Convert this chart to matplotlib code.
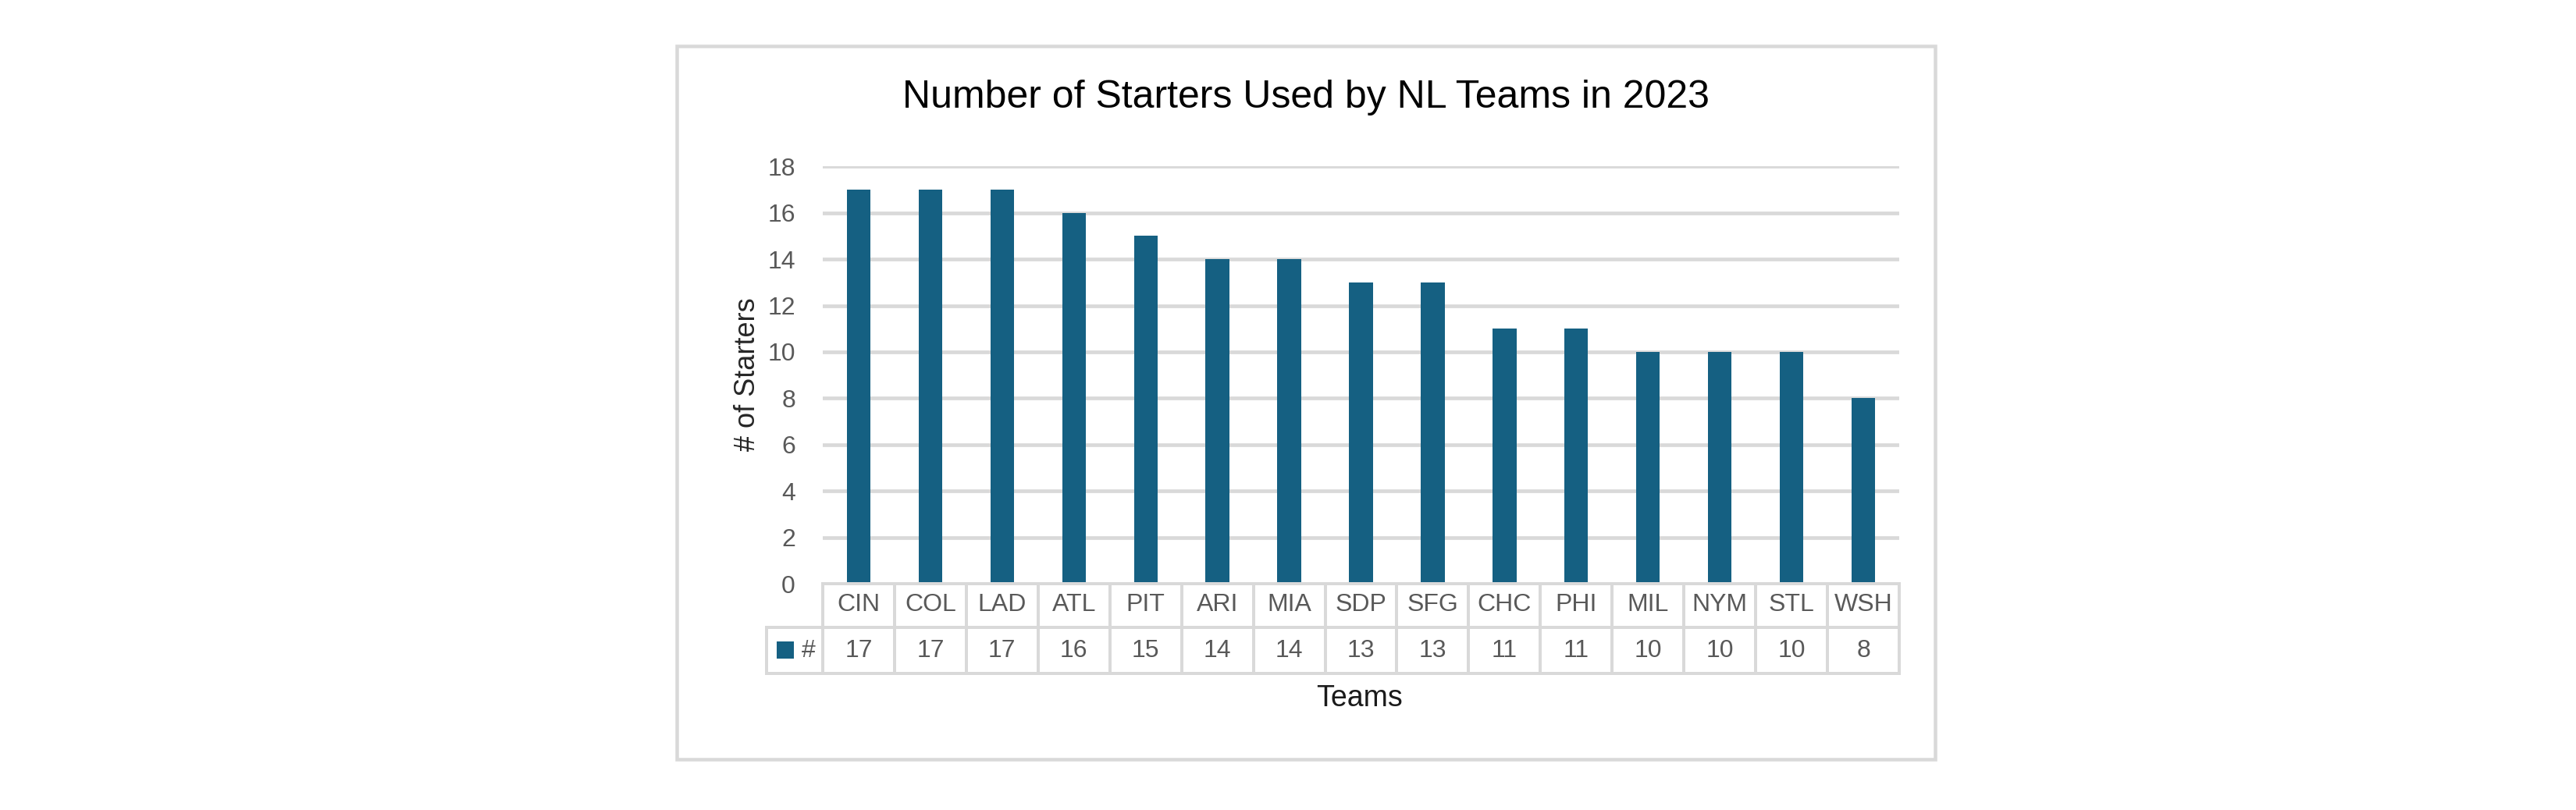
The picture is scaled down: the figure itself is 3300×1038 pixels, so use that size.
import matplotlib
matplotlib.use("Agg")
import matplotlib.pyplot as plt
from matplotlib.patches import Rectangle
from matplotlib.lines import Line2D
from matplotlib.transforms import blended_transform_factory

# Data
teams = ["CIN", "COL", "LAD", "ATL", "PIT", "ARI", "MIA", "SDP",
         "SFG", "CHC", "PHI", "MIL", "NYM", "STL", "WSH"]
starters = [17, 17, 17, 16, 15, 14, 14, 13, 13, 11, 11, 10, 10, 10, 8]
y_ticks = [0, 2, 4, 6, 8, 10, 12, 14, 16, 18]
series_name = "#"

BAR = "#156082"
GRID = "#D9D9D9"
TICK = "#595959"
FONT = "Liberation Sans"

W, H, DPI = 3300, 1038, 200


def fx(px):
    return px / W


def fy(py):
    return 1 - py / H


def lw(px):
    return px * 72 / DPI


fig = plt.figure(figsize=(W / DPI, H / DPI), dpi=DPI, facecolor="white")
plt.rcParams["font.family"] = [FONT, "DejaVu Sans"]

# chart border
fig.patches.append(Rectangle((fx(866.5), fy(973)), fx(2479) - fx(866.5), fy(58.7) - fy(973),
                             transform=fig.transFigure, fill=False,
                             edgecolor=GRID, linewidth=lw(4.5), zorder=0))

# plot area
ax_left, ax_right, ax_top, ax_bottom = 1054, 2433, 213.3, 748
ax = fig.add_axes([fx(ax_left), fy(ax_bottom), fx(ax_right) - fx(ax_left), fy(ax_top) - fy(ax_bottom)])

x = list(range(len(teams)))
ax.bar(x, starters, width=0.33, color=BAR, zorder=3)
ax.set_xlim(-0.5, len(teams) - 0.5)
ax.set_ylim(0, 18)
ax.set_yticks(y_ticks)
ax.set_xticks([])
for yv in y_ticks[1:]:
    ax.axhline(yv, color=GRID, linewidth=lw(4.7), zorder=1)
for s in ax.spines.values():
    s.set_visible(False)
ax.tick_params(axis="y", length=0, pad=lw(35), labelsize=11.5, labelcolor=TICK)

# titles (centred on the chart box, not the plot area)
fig.text(fx(1672.5), fy(125), "Number of Starters Used by NL Teams in 2023",
         ha="center", va="center", fontsize=18, color="black")
fig.text(fx(958), fy(480), "# of Starters", rotation=90, ha="center", va="center",
         fontsize=13, color="#262626")
fig.text(fx(1742), fy(895), "Teams", ha="center", va="center",
         fontsize=13.5, color="#1a1a1a")

# data table below the axis
tr = blended_transform_factory(ax.transData, fig.transFigure)
n = len(teams)
leg_left = -0.5 - (1054 - 982) / ((ax_right - ax_left) / n)
row_top, row_mid, row_bot = 748, 804, 863
tlw = lw(4)


def hline(x0, x1, py):
    fig.add_artist(Line2D([x0, x1], [fy(py), fy(py)], transform=tr, color=GRID,
                          linewidth=tlw, solid_capstyle="projecting"))


def vline(xv, py0, py1):
    fig.add_artist(Line2D([xv, xv], [fy(py0), fy(py1)], transform=tr, color=GRID,
                          linewidth=tlw, solid_capstyle="projecting"))


hline(-0.5, n - 0.5, row_top)
hline(leg_left, n - 0.5, row_mid)
hline(leg_left, n - 0.5, row_bot)
vline(leg_left, row_mid, row_bot)
for i in range(n + 1):
    vline(i - 0.5, row_top, row_bot)

for i, (tm, v) in enumerate(zip(teams, starters)):
    fig.text(i, fy(775), tm, transform=tr, ha="center", va="center",
             fontsize=11.5, color=TICK)
    fig.text(i, fy(834), str(v), transform=tr, ha="center", va="center",
             fontsize=11.5, color=TICK)

# legend key in the table
fig.patches.append(Rectangle((fx(995), fy(844)), fx(1017) - fx(995), fy(822) - fy(844),
                             transform=fig.transFigure, facecolor=BAR, edgecolor="none"))
fig.text(fx(1027), fy(834), series_name, ha="left", va="center", fontsize=11.5, color=TICK)

fig.savefig("out.png", dpi=DPI, facecolor="white")
